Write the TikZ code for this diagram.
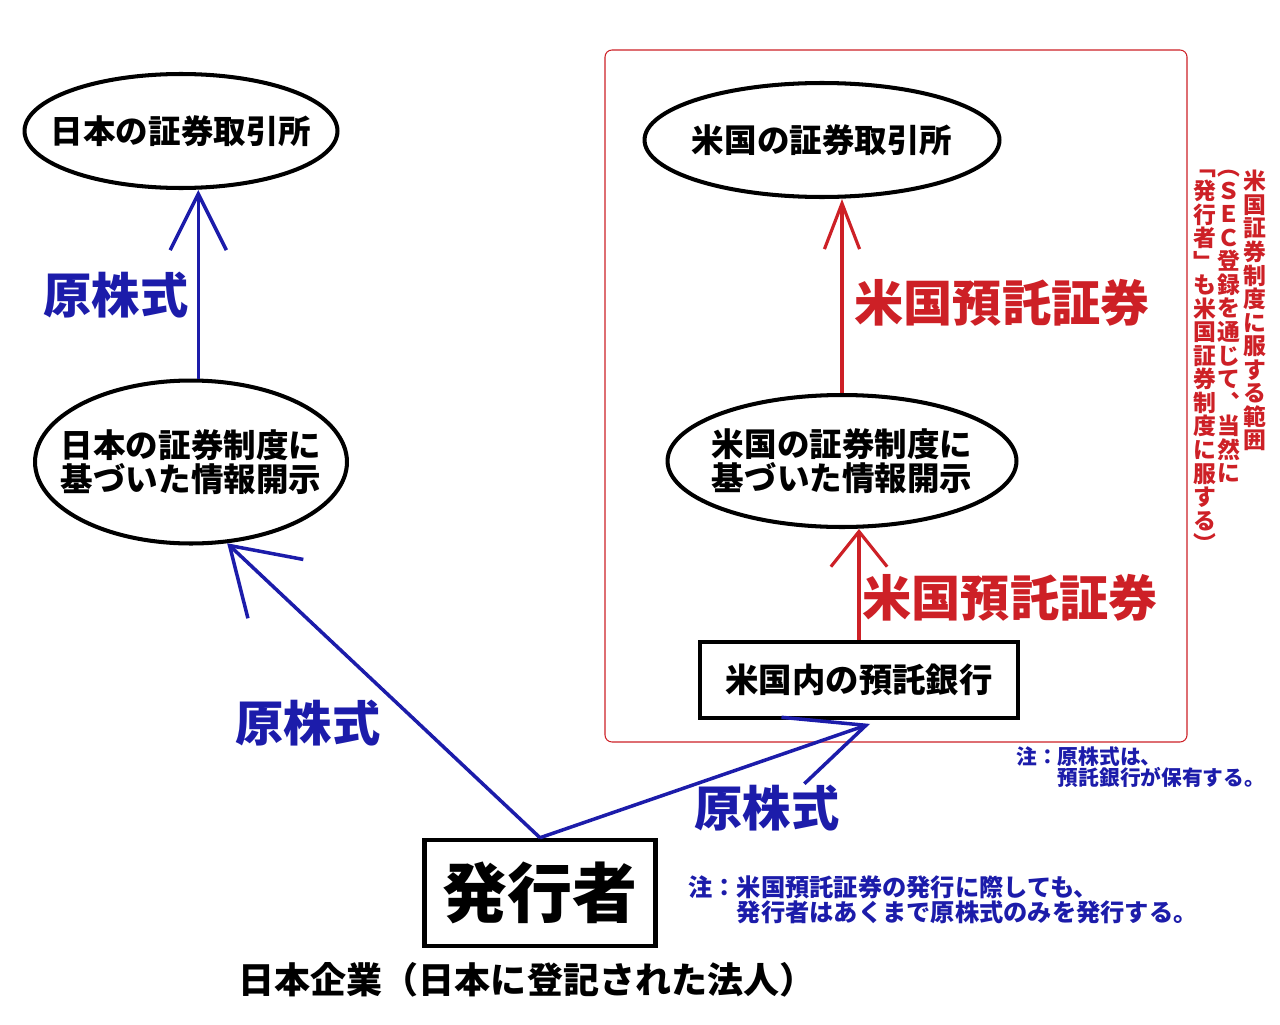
\documentclass[tikz,border=0pt]{standalone}
\usepackage{fontspec}
\setmainfont{Noto Sans CJK JP}
\usetikzlibrary{arrows.meta,shapes.geometric,calc}
\definecolor{myblue}{RGB}{28,28,170}
\definecolor{myred}{RGB}{205,32,38}
\tikzset{
  ell/.style={ellipse,draw,line width=2.3pt,align=center,inner xsep=-30pt,inner ysep=0pt,font=\bfseries\fontsize{18.5}{19}\selectfont},
  box/.style={rectangle,draw,line width=2.2pt,inner sep=0pt},
  bluearrow/.style={myblue,line width=2pt,-{Straight Barb[length=32pt,width=32pt]}},
  redarrow/.style={myred,line width=1.8pt,-{Straight Barb[length=26pt,width=20pt]}},
  bluelbl/.style={myblue,font=\bfseries\fontsize{27.5}{30}\selectfont},
  redlbl/.style={myred,font=\bfseries\fontsize{28}{30}\selectfont},
  note/.style={myblue,anchor=north west,align=left,inner sep=0pt},
  vcol/.style={myred,anchor=north,align=center,inner sep=0pt,font=\bfseries\fontsize{13}{13.4}\selectfont}
}
\begin{document}
\begin{tikzpicture}[x=0.02cm,y=-0.02cm]
\useasboundingbox (0,0) rectangle (1280,1024);
% frame
\draw[myred,line width=0.6pt,rounded corners=4pt] (605,50) rectangle (1187,742);
% left
\node[ell,minimum width=6.26cm,minimum height=2.28cm] (ltop) at (181,131) {日本の証券取引所};
\node[ell,minimum width=6.24cm,minimum height=3.26cm] (lmid) at (191,462) {日本の証券制度に\\基づいた情報開示};
% right
\node[ell,minimum width=7.1cm,minimum height=2.28cm] (rtop) at (822,140) {米国の証券取引所};
\node[ell,minimum width=6.98cm,minimum height=2.64cm] (rmid) at (842,461) {米国の証券制度に\\基づいた情報開示};
\node[box,minimum width=6.36cm,minimum height=1.52cm,font=\bfseries\fontsize{19}{20}\selectfont] (bank) at (859,680) {米国内の預託銀行};
% issuer
\node[box,line width=2.6pt,minimum width=4.62cm,minimum height=2.12cm,font=\bfseries\fontsize{37}{40}\selectfont] (issuer) at (540,893) {発行者};
\node[font=\bfseries\fontsize{20.5}{22}\selectfont] (corp) at (527,980) {日本企業（日本に登記された法人）};
% arrows
\draw[bluearrow] (lmid.85) -- (lmid.85 |- ltop.south);
\draw[bluearrow,-{Straight Barb[length=36pt,width=46pt]}] (issuer.north) -- (lmid.-66);
\draw[bluearrow,-{Straight Barb[length=44pt,width=40pt]}] (issuer.north) -- ($(bank.south)+(11,4)$);
\draw[redarrow] (rmid.north) -- (rmid.north |- rtop.south);
\draw[redarrow,-{Straight Barb[length=20pt,width=32pt]}] (bank.north) -- (bank.north |- rmid.south);
% labels
\node[bluelbl] (g1) at (116,295) {原株式};
\node[bluelbl] (g2) at (308,723) {原株式};
\node[bluelbl] (g3) at (767,808) {原株式};
\node[redlbl] (a1) at (1002,303) {米国預託証券};
\node[redlbl] (a2) at (1010,598) {米国預託証券};
% notes
\node[note,font=\bfseries\fontsize{11.8}{12.2}\selectfont] (n1) at (1016,746) {注：原株式は、\\　　預託銀行が保有する。};
\node[note,font=\bfseries\fontsize{13.8}{14.3}\selectfont] (n2) at (688,875) {注：米国預託証券の発行に際しても、\\　　発行者はあくまで原株式のみを発行する。};
% vertical text
\node[vcol] (v1) at (1255,170) {米\\国\\証\\券\\制\\度\\に\\服\\す\\る\\範\\囲};
\node[vcol] (v2) at (1229,170) {︵\\Ｓ\\Ｅ\\Ｃ\\登\\録\\を\\通\\じ\\て\\︑\\当\\然\\に};
\node[vcol] (v3) at (1205,170) {﹁\\発\\行\\者\\﹂\\も\\米\\国\\証\\券\\制\\度\\に\\服\\す\\る\\︶};
\end{tikzpicture}
\end{document}
